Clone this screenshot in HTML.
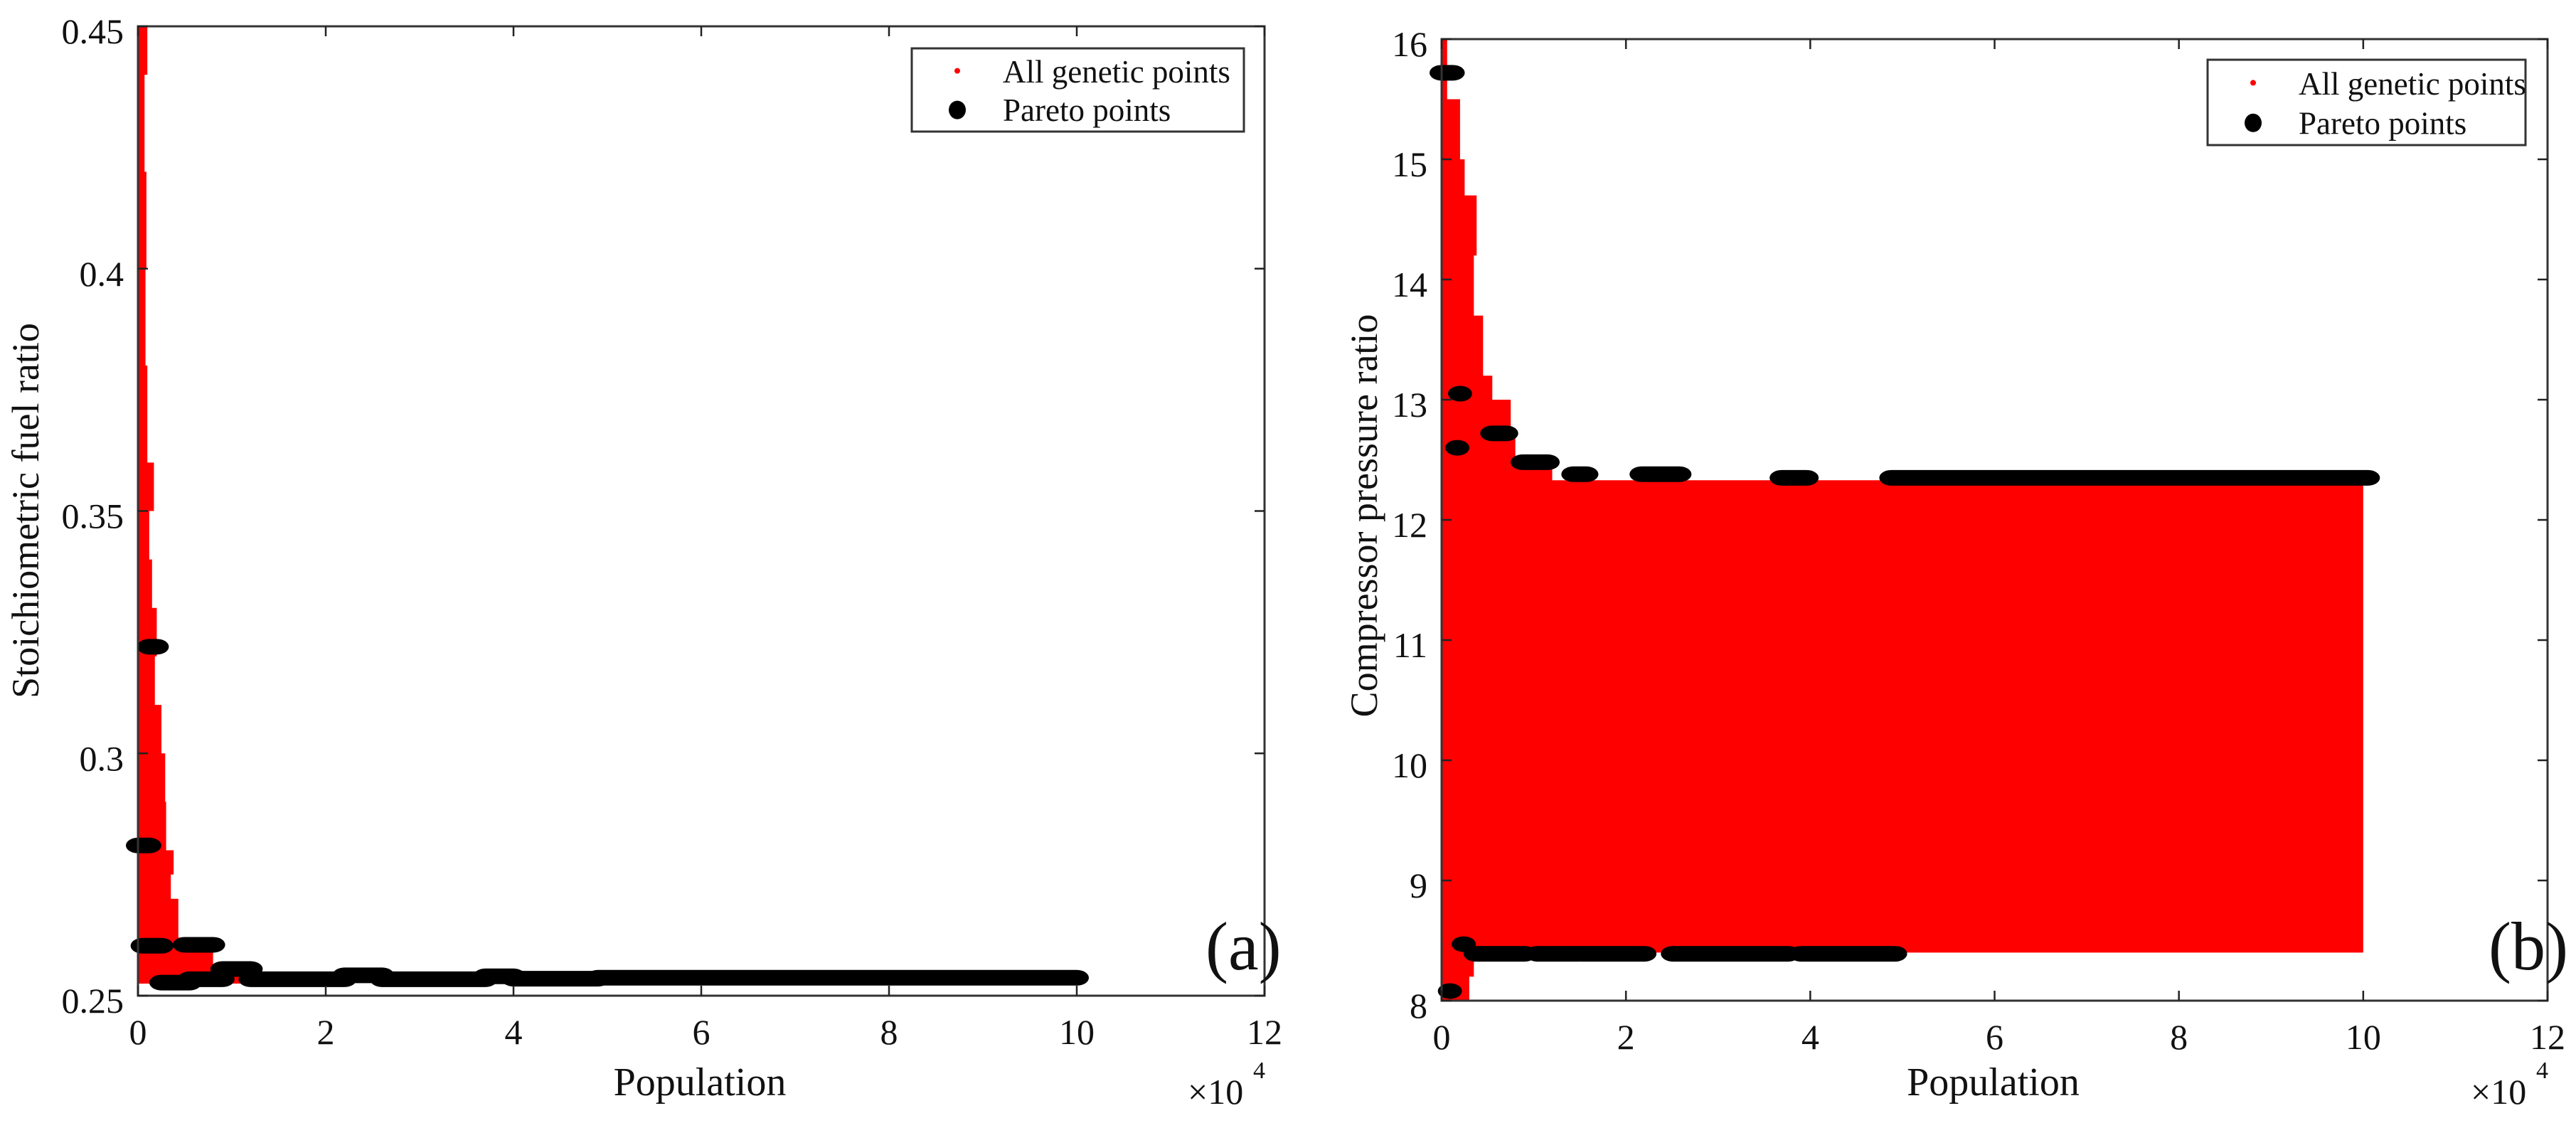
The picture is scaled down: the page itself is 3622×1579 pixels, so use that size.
<!DOCTYPE html>
<html><head><meta charset="utf-8"><style>
html,body{margin:0;padding:0;background:#fff}
svg{display:block}
text{font-family:"Liberation Serif",serif;fill:#111}
</style></head><body>
<svg id="fig" width="3622" height="1579" viewBox="0 0 3622 1579" xmlns="http://www.w3.org/2000/svg">
<g id="chartA"></g>
<g id="chartB"></g>
</svg>
<script>
// ---------- Chart A data ----------
const aXTicks = [0, 2, 4, 6, 8, 10, 12];
const aYTicks = [0.25, 0.3, 0.35, 0.4, 0.45];
const aYTickLabels = ["0.25", "0.3", "0.35", "0.4", "0.45"];
// red cloud envelope: y level -> max population (x10^4)
const aRedEnvY = [0.45, 0.44, 0.42, 0.40, 0.38, 0.36, 0.35, 0.34, 0.33, 0.32, 0.31, 0.30, 0.29, 0.28, 0.275, 0.27, 0.265, 0.262, 0.258, 0.256, 0.2525];
const aRedEnvX = [0.1, 0.07, 0.09, 0.08, 0.1, 0.17, 0.12, 0.15, 0.2, 0.18, 0.25, 0.29, 0.3, 0.38, 0.35, 0.43, 0.43, 0.8, 0.8, 1.2, 1.2];
// pareto streaks
const aParStart = [0.0, 0.12, 0.05, 0.5, 0.25, 0.55, 0.9, 1.2, 2.2, 2.6, 3.7, 4.0, 4.9];
const aParEnd   = [0.12, 0.2, 0.25, 0.8, 0.55, 0.9, 1.2, 2.2, 2.6, 3.7, 4.0, 4.9, 10.0];
const aParY     = [0.281, 0.322, 0.2603, 0.2605, 0.2527, 0.2534, 0.2555, 0.2534, 0.2542, 0.2534, 0.254, 0.2535, 0.2537];

// ---------- Chart B data ----------
const bXTicks = [0, 2, 4, 6, 8, 10, 12];
const bYTicks = [8, 9, 10, 11, 12, 13, 14, 15, 16];
const bYTickLabels = ["8", "9", "10", "11", "12", "13", "14", "15", "16"];
const bRedEnvY = [16, 15.5, 15.0, 14.7, 14.2, 13.7, 13.2, 13.0, 12.7, 12.5, 12.33, 12.33, 8.4, 8.4, 8.2, 8.0];
const bRedEnvX = [0.06, 0.2, 0.25, 0.38, 0.35, 0.45, 0.55, 0.75, 0.8, 1.2, 1.2, 10.0, 10.0, 0.35, 0.3, 0.1];
const bParStart = [0.0, 0.2, 0.17, 0.55, 0.88, 1.43, 2.17, 3.69, 4.88, 0.24, 0.37, 1.04, 1.52, 2.51, 3.9, 0.09];
const bParEnd   = [0.12, 0.2, 0.17, 0.7, 1.15, 1.57, 2.58, 3.96, 10.05, 0.24, 0.9, 1.49, 2.2, 3.76, 4.92, 0.09];
const bParY     = [15.72, 13.05, 12.6, 12.72, 12.48, 12.38, 12.38, 12.35, 12.35, 8.47, 8.39, 8.39, 8.39, 8.39, 8.39, 8.08];

const NS = "http://www.w3.org/2000/svg";
function mk(tag, attrs, parent) {
  const e = document.createElementNS(NS, tag);
  for (const k in attrs) e.setAttribute(k, attrs[k]);
  parent.appendChild(e);
  return e;
}

function drawChart(g, cfg) {
  const sx = v => cfg.x0 + (v - cfg.xmin) * (cfg.x1 - cfg.x0) / (cfg.xmax - cfg.xmin);
  const sy = v => cfg.yb - (v - cfg.ymin) * (cfg.yb - cfg.yt) / (cfg.ymax - cfg.ymin);

  // red cloud
  let pts = [[sx(0), sy(cfg.envY[0])]];
  for (let i = 0; i < cfg.envY.length; i++) {
    pts.push([sx(cfg.envX[i]), sy(cfg.envY[i])]);
    if (i + 1 < cfg.envY.length) pts.push([sx(cfg.envX[i]), sy(cfg.envY[i + 1])]);
  }
  pts.push([sx(0), sy(cfg.envY[cfg.envY.length - 1])]);
  const cloud = mk("polygon", {points: pts.map(p => p.join(",")).join(" "), fill: "#ff0000"}, g);
  
  

  // pareto streaks
  for (let i = 0; i < cfg.parS.length; i++) {
    const xa = sx(cfg.parS[i]), xb = sx(cfg.parE[i]);
    const r = mk("rect", {x: xa - 17, y: sy(cfg.parY[i]) - 11, width: (xb - xa) + 34, height: 22, rx: 17, ry: 11, fill: "#000"}, g);
    
    
  }

  // axes box
  const box = mk("rect", {x: cfg.x0, y: cfg.yt, width: cfg.x1 - cfg.x0, height: cfg.yb - cfg.yt, fill: "none", stroke: "#333", "stroke-width": 3}, g);
  
  

  cfg.xTicks.forEach(t => {
    const x = sx(t);
    mk("line", {x1: x, y1: cfg.yb, x2: x, y2: cfg.yb - 14, stroke: "#222", "stroke-width": 2.5}, g);
    mk("line", {x1: x, y1: cfg.yt, x2: x, y2: cfg.yt + 14, stroke: "#222", "stroke-width": 2.5}, g);
    const tl = mk("text", {x: x, y: cfg.yb + 68, "font-size": 50, "text-anchor": "middle"}, g);
    tl.textContent = String(t);
    
    
  });
  cfg.yTicks.forEach((t, i) => {
    const y = sy(t);
    mk("line", {x1: cfg.x0, y1: y, x2: cfg.x0 + 14, y2: y, stroke: "#222", "stroke-width": 2.5}, g);
    mk("line", {x1: cfg.x1, y1: y, x2: cfg.x1 - 14, y2: y, stroke: "#222", "stroke-width": 2.5}, g);
    const tl = mk("text", {x: cfg.x0 - 20, y: y + 24, "font-size": 50, "text-anchor": "end"}, g);
    tl.textContent = cfg.yLabels[i];
    
    
  });

  const xl = mk("text", {x: (cfg.x0 + cfg.x1) / 2 - 2, y: 1540, "font-size": 56, "text-anchor": "middle"}, g);
  xl.textContent = "Population";
  
  

  const mult = mk("text", {x: cfg.x1 - 108, y: 1552, "font-size": 50}, g);
  mult.textContent = "×10";
  
  
  const exp = mk("text", {x: cfg.x1 - 16, y: 1516, "font-size": 34}, g);
  exp.textContent = "4";
  
  

  const yl = mk("text", {x: 0, y: 0, "font-size": 54, "text-anchor": "middle", transform: "translate(" + cfg.ylx + "," + cfg.yly + ") rotate(-90)"}, g);
  yl.textContent = cfg.yTitle;
  
  

  const pl = mk("text", {x: cfg.x1 - 83, y: 1363, "font-size": 96}, g);
  pl.textContent = cfg.panel;
  
  

  // legend
  const lg = mk("g", {}, g);
  
  
  const L = cfg.leg;
  mk("rect", {x: L.x, y: L.y, width: L.w, height: L.h, fill: "#fff", stroke: "#333", "stroke-width": 3}, lg);
  const e1 = mk("g", {}, lg);
  
  
  mk("ellipse", {cx: L.x + 64, cy: L.y + L.h * 0.27, rx: 4, ry: 4, fill: "#ff0000"}, e1);
  const t1 = mk("text", {x: L.x + 128, y: L.y + L.h * 0.41, "font-size": 45}, e1);
  t1.textContent = "All genetic points";
  const e2 = mk("g", {}, lg);
  
  
  mk("ellipse", {cx: L.x + 64, cy: L.y + L.h * 0.74, rx: 12, ry: 13, fill: "#000"}, e2);
  const t2 = mk("text", {x: L.x + 128, y: L.y + L.h * 0.87, "font-size": 45}, e2);
  t2.textContent = "Pareto points";
}

drawChart(document.getElementById("chartA"), {
  x0: 194, x1: 1778, yt: 37, yb: 1400, xmin: 0, xmax: 12, ymin: 0.25, ymax: 0.45,
  xTicks: aXTicks, yTicks: aYTicks, yLabels: aYTickLabels,
  envY: aRedEnvY, envX: aRedEnvX, parS: aParStart, parE: aParEnd, parY: aParY,
  yTitle: "Stoichiometric fuel ratio", ylx: 54, yly: 718, panel: "(a)",
  leg: {x: 1282, y: 68, w: 467, h: 117}
});
drawChart(document.getElementById("chartB"), {
  x0: 2027, x1: 3582, yt: 55, yb: 1407, xmin: 0, xmax: 12, ymin: 8, ymax: 16,
  xTicks: bXTicks, yTicks: bYTicks, yLabels: bYTickLabels,
  envY: bRedEnvY, envX: bRedEnvX, parS: bParStart, parE: bParEnd, parY: bParY,
  yTitle: "Compressor pressure ratio", ylx: 1936, yly: 725, panel: "(b)",
  leg: {x: 3104, y: 84, w: 447, h: 120}
});
</script>
</body></html>
